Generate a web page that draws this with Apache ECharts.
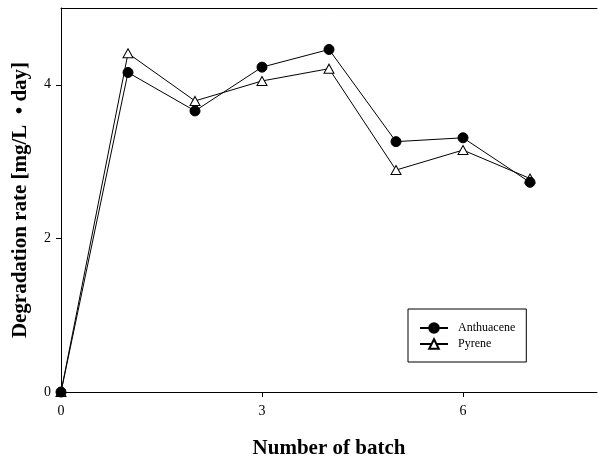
<!DOCTYPE html>
<html>
<head>
<meta charset="utf-8">
<script src="https://cdn.jsdelivr.net/npm/echarts@6/dist/echarts.min.js"></script>
<style>
  html, body { margin: 0; padding: 0; background: #fff; }
  #chart { width: 598px; height: 464px; }
</style>
</head>
<body>
<div id="chart"></div>
<script>
// Batch number and degradation rates [mg/L·day] per compound
const batches = [0, 1, 2, 3, 4, 5, 6, 7];
const anthuacene = [0, 4.16, 3.66, 4.23, 4.46, 3.26, 3.31, 2.73];
const pyrene = [0, 4.41, 3.79, 4.05, 4.21, 2.89, 3.15, 2.78];
const xTicks = [0, 3, 6];
const yTicks = [0, 2, 4];

const serif = '"Liberation Serif", "Times New Roman", serif';
const pairs = (ys) => batches.map((b, i) => [b, ys[i]]);

const chart = echarts.init(document.getElementById('chart'));
chart.setOption({
  animation: false,
  backgroundColor: '#ffffff',
  grid: { left: 61, right: 1, top: 8, bottom: 71 },
  legend: {
    orient: 'vertical',
    left: 408,
    top: 309,
    data: ['Anthuacene', 'Pyrene'],
    itemWidth: 28,
    itemHeight: 12,
    itemGap: 4,
    padding: [13, 11, 12, 11],
    borderColor: '#000',
    borderWidth: 1,
    backgroundColor: '#fff',
    textStyle: { fontFamily: serif, fontSize: 12, color: '#000', padding: [0, 0, 0, 5] }
  },
  xAxis: [{
    type: 'value',
    min: 0,
    max: 8,
    interval: 3,
    name: 'Number of batch',
    nameLocation: 'middle',
    nameGap: 46,
    nameTextStyle: { fontFamily: serif, fontSize: 21, fontWeight: 'bold', color: '#000' },
    axisLine: { onZero: false, lineStyle: { color: '#000', width: 1 } },
    axisTick: { show: true, length: 5, customValues: xTicks, lineStyle: { color: '#000' } },
    axisLabel: { customValues: xTicks, margin: 12, fontFamily: serif, fontSize: 14, color: '#000' },
    splitLine: { show: false }
  }, {
    // plain frame line along the top of the plot
    type: 'value',
    position: 'top',
    min: 0,
    max: 8,
    axisLine: { show: true, onZero: false, lineStyle: { color: '#000', width: 1 } },
    axisTick: { show: false },
    axisLabel: { show: false },
    splitLine: { show: false }
  }],
  yAxis: {
    type: 'value',
    min: 0,
    max: 5,
    interval: 2,
    name: 'Degradation rate [mg/L  \u2022 day]',
    nameLocation: 'middle',
    nameGap: 30,
    nameTextStyle: { fontFamily: serif, fontSize: 21, fontWeight: 'bold', color: '#000' },
    axisLine: { show: true, onZero: false, lineStyle: { color: '#000', width: 1 } },
    axisTick: { show: true, length: 5, customValues: yTicks, lineStyle: { color: '#000' } },
    axisLabel: { customValues: yTicks, margin: 10, fontFamily: serif, fontSize: 14, color: '#000' },
    splitLine: { show: false }
  },
  series: [{
    name: 'Anthuacene',
    type: 'line',
    data: pairs(anthuacene),
    z: 3,
    clip: false,
    symbol: 'circle',
    symbolSize: 10,
    showAllSymbol: true,
    lineStyle: { color: '#000', width: 1 },
    itemStyle: { color: '#000', borderColor: '#000', borderWidth: 1 }
  }, {
    name: 'Pyrene',
    type: 'line',
    data: pairs(pyrene),
    z: 2,
    clip: false,
    symbol: 'triangle',
    symbolSize: [10, 9],
    showAllSymbol: true,
    lineStyle: { color: '#000', width: 1 },
    itemStyle: { color: '#fff', borderColor: '#000', borderWidth: 1 }
  }]
});
</script>
</body>
</html>
